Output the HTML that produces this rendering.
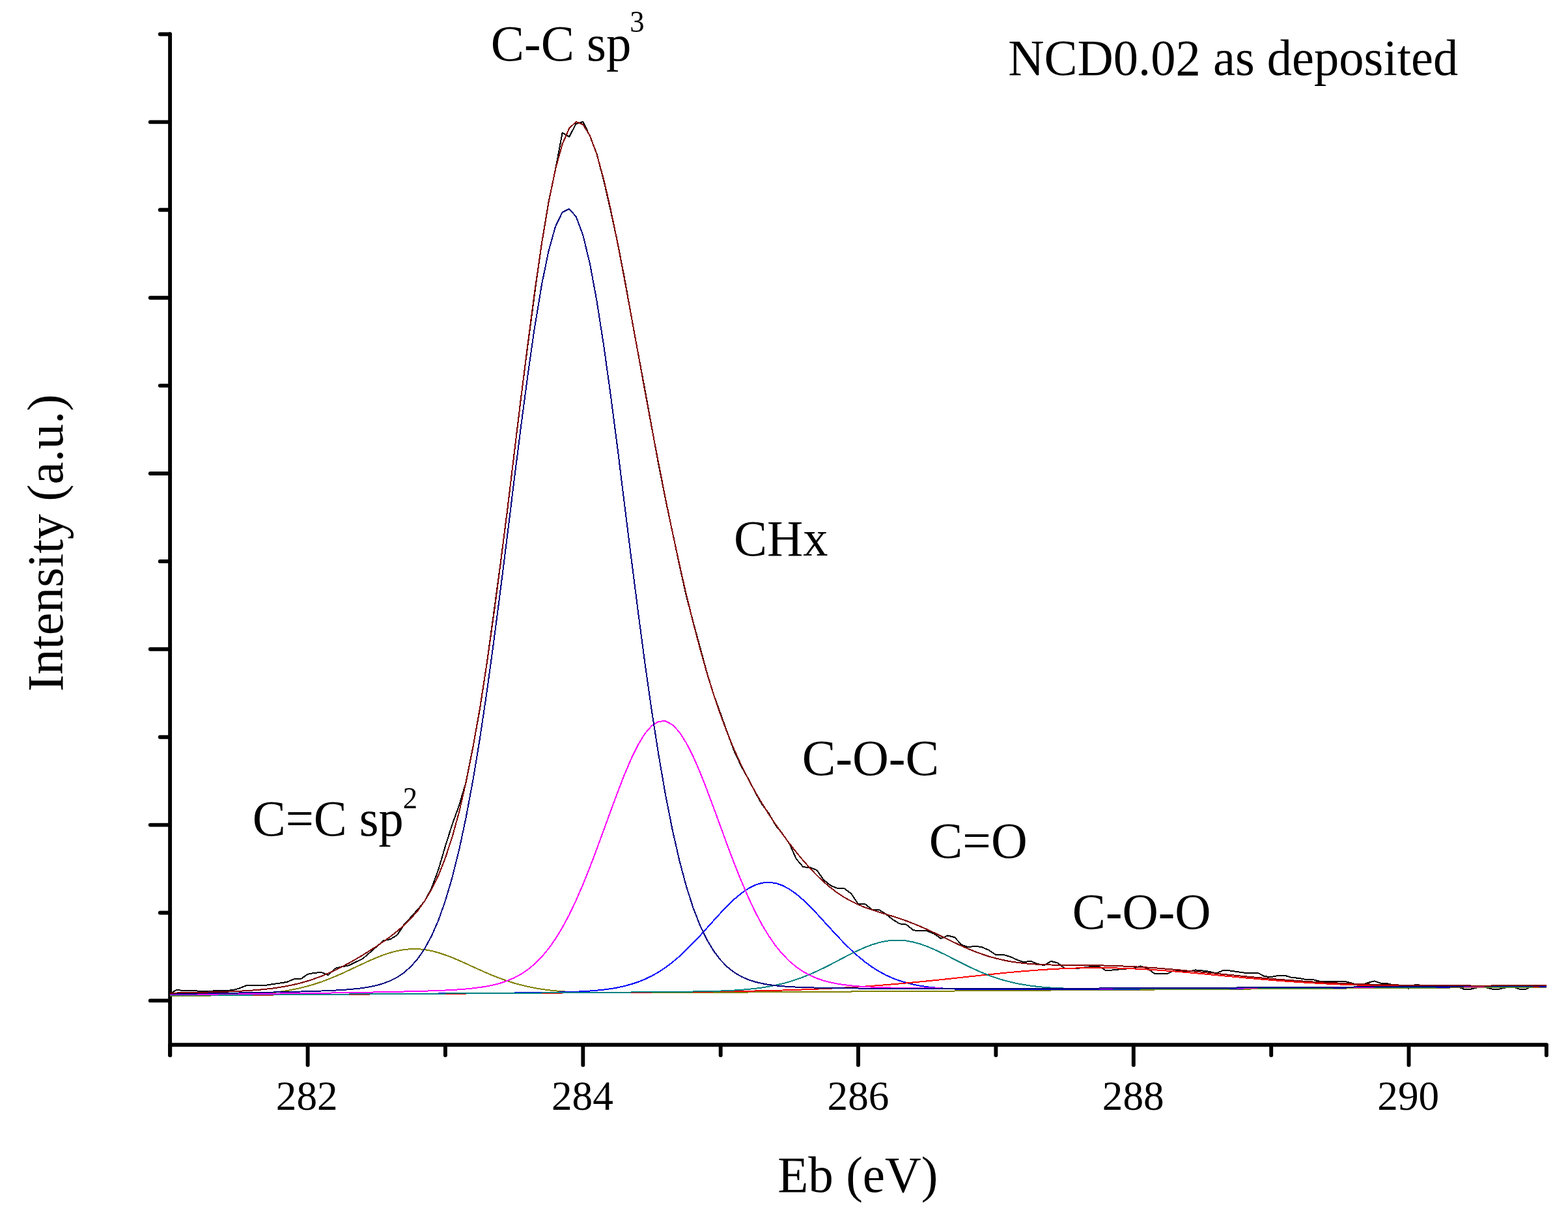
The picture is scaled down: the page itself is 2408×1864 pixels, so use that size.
<!DOCTYPE html>
<html lang="en"><head><meta charset="utf-8"><title>NCD0.02 as deposited</title>
<style>html,body{margin:0;padding:0;background:#fff;overflow:hidden}svg{display:block}text{font-family:"Liberation Serif","DejaVu Serif",serif;fill:#000}</style></head><body>
<svg width="2408" height="1864" viewBox="0 0 2408 1864">
<rect x="0" y="0" width="2408" height="1864" fill="#fff"/>
<g stroke="#000" stroke-width="5.9" stroke-linecap="round" fill="none">
<path d="M261.1 52.3 V1620.3"/>
<path d="M261.1 1604.2 H2374.9"/>
<path d="M245.8 52.5 H260.5"/>
<path d="M230.8 187.4 H260.5"/>
<path d="M245.8 322.3 H260.5"/>
<path d="M230.8 457.2 H260.5"/>
<path d="M245.8 592.1 H260.5"/>
<path d="M230.8 727.0 H260.5"/>
<path d="M245.8 861.9 H260.5"/>
<path d="M230.8 996.8 H260.5"/>
<path d="M245.8 1131.7 H260.5"/>
<path d="M230.8 1266.6 H260.5"/>
<path d="M245.8 1401.5 H260.5"/>
<path d="M230.8 1536.4 H260.5"/>
<path d="M261.2 1604.8 V1620.3"/>
<path d="M472.6 1604.8 V1635.3"/>
<path d="M683.9 1604.8 V1620.3"/>
<path d="M895.3 1604.8 V1635.3"/>
<path d="M1106.7 1604.8 V1620.3"/>
<path d="M1318.0 1604.8 V1635.3"/>
<path d="M1529.4 1604.8 V1620.3"/>
<path d="M1740.8 1604.8 V1635.3"/>
<path d="M1952.2 1604.8 V1620.3"/>
<path d="M2163.5 1604.8 V1635.3"/>
<path d="M2374.9 1604.8 V1620.3"/>
</g>
<g shape-rendering="crispEdges">
<polyline points="261.2,1525.7 271.8,1519.6 282.3,1521.3 292.9,1521.4 303.5,1521.5 314.0,1521.5 324.6,1521.6 335.2,1521.2 345.7,1520.8 356.3,1520.4 366.9,1517.7 377.5,1513.5 388.0,1513.4 398.6,1513.4 409.2,1512.6 419.7,1511.0 430.3,1509.5 440.9,1507.8 451.4,1503.3 462.0,1503.2 472.6,1495.7 483.1,1493.8 493.7,1493.0 504.3,1497.2 514.8,1486.7 525.4,1484.3 536.0,1482.3 546.5,1477.1 557.1,1471.9 567.7,1462.8 578.3,1453.6 588.8,1444.4 599.4,1442.1 610.0,1435.6 620.5,1419.7 631.1,1408.2 641.7,1396.3 652.2,1383.6 662.8,1363.6 673.4,1334.9 683.9,1299.3 694.5,1265.9 705.1,1236.5 715.6,1201.0 726.2,1148.0 736.8,1089.3 747.4,1020.3 757.9,943.8 768.5,865.7 779.1,784.1 789.6,696.7 800.2,609.7 810.8,528.1 821.3,449.1 831.9,373.8 842.5,310.1 853.0,260.3 863.6,204.0 874.2,209.9 884.7,190.0 895.3,187.0 905.9,208.7 916.4,236.2 927.0,276.4 937.6,322.8 948.2,371.3 958.7,425.3 969.3,484.4 979.9,542.2 990.4,598.0 1001.0,656.3 1011.6,714.5 1022.1,767.2 1032.7,816.9 1043.3,867.4 1053.8,914.3 1064.4,954.6 1075.0,993.5 1085.5,1032.6 1096.1,1067.0 1106.7,1096.1 1117.2,1125.5 1127.8,1154.0 1138.4,1176.5 1149.0,1195.6 1159.5,1216.0 1170.1,1234.9 1180.7,1249.0 1191.2,1267.3 1201.8,1280.4 1212.4,1295.6 1222.9,1318.8 1233.5,1331.4 1244.1,1331.7 1254.6,1336.3 1265.2,1351.3 1275.8,1359.8 1286.3,1364.0 1296.9,1364.4 1307.5,1372.3 1318.0,1388.2 1328.6,1388.2 1339.2,1396.6 1349.8,1396.7 1360.3,1403.4 1370.9,1411.8 1381.5,1418.3 1392.0,1419.6 1402.6,1428.2 1413.2,1429.4 1423.7,1429.4 1434.3,1433.6 1444.9,1441.0 1455.4,1436.5 1466.0,1439.1 1476.6,1450.6 1487.1,1454.5 1497.7,1452.5 1508.3,1454.4 1518.9,1459.0 1529.4,1466.1 1540.0,1465.7 1550.6,1468.7 1561.1,1473.3 1571.7,1477.4 1582.3,1475.5 1592.8,1479.7 1603.4,1482.4 1614.0,1475.8 1624.5,1478.6 1635.1,1486.8 1645.7,1486.8 1656.2,1486.7 1666.8,1485.2 1677.4,1483.7 1687.9,1483.9 1698.5,1490.3 1709.1,1489.4 1719.7,1488.3 1730.2,1487.5 1740.8,1486.6 1751.4,1483.5 1761.9,1486.6 1772.5,1494.7 1783.1,1494.7 1793.6,1494.7 1804.2,1489.2 1814.8,1491.8 1825.3,1491.7 1835.9,1489.4 1846.5,1490.5 1857.0,1491.7 1867.6,1494.4 1878.2,1490.1 1888.7,1490.5 1899.3,1491.9 1909.9,1493.5 1920.5,1493.5 1931.0,1493.5 1941.6,1499.0 1952.2,1500.2 1962.7,1497.9 1973.3,1497.8 1983.9,1501.0 1994.4,1501.8 2005.0,1503.9 2015.6,1503.9 2026.1,1506.7 2036.7,1506.7 2047.3,1507.0 2057.8,1507.4 2068.4,1507.5 2079.0,1510.5 2089.6,1512.6 2100.1,1509.1 2110.7,1506.4 2121.3,1510.0 2131.8,1510.5 2142.4,1513.4 2153.0,1516.2 2163.5,1517.7 2174.1,1511.7 2184.7,1513.1 2195.2,1514.5 2205.8,1515.9 2216.4,1515.9 2226.9,1515.4 2237.5,1514.7 2248.1,1518.8 2258.6,1518.7 2269.2,1516.3 2279.8,1515.7 2290.4,1518.5 2300.9,1518.9 2311.5,1516.6 2322.1,1514.6 2332.6,1518.5 2343.2,1518.9 2353.8,1513.8 2364.3,1515.6 2374.9,1514.0" fill="none" stroke="#000000" stroke-width="2.0" stroke-linejoin="round"/>
<polyline points="261.2,1529.2 271.8,1529.1 282.3,1529.0 292.9,1528.9 303.5,1528.8 314.0,1528.7 324.6,1528.5 335.2,1528.4 345.7,1528.2 356.3,1527.9 366.9,1527.6 377.5,1527.1 388.0,1526.6 398.6,1525.9 409.2,1525.1 419.7,1524.0 430.3,1522.7 440.9,1521.1 451.4,1519.1 462.0,1516.8 472.6,1514.1 483.1,1511.0 493.7,1507.5 504.3,1503.5 514.8,1499.2 525.4,1494.6 536.0,1489.7 546.5,1484.7 557.1,1479.8 567.7,1474.9 578.3,1470.4 588.8,1466.3 599.4,1462.8 610.0,1460.0 620.5,1458.1 631.1,1457.1 641.7,1457.1 652.2,1458.1 662.8,1460.0 673.4,1462.8 683.9,1466.3 694.5,1470.3 705.1,1474.8 715.6,1479.5 726.2,1484.4 736.8,1489.2 747.4,1493.9 757.9,1498.3 768.5,1502.4 779.1,1506.2 789.6,1509.5 800.2,1512.4 810.8,1514.9 821.3,1517.0 831.9,1518.8 842.5,1520.2 853.0,1521.3 863.6,1522.2 874.2,1522.9 884.7,1523.4 895.3,1523.8 905.9,1524.0 916.4,1524.2 927.0,1524.3 937.6,1524.4 948.2,1524.4 958.7,1524.4 969.3,1524.4 979.9,1524.4 990.4,1524.4 1001.0,1524.3 1011.6,1524.3 1022.1,1524.2 1032.7,1524.2 1043.3,1524.1 1053.8,1524.0 1064.4,1524.0 1075.0,1523.9 1085.5,1523.9 1096.1,1523.8 1106.7,1523.7 1117.2,1523.7 1127.8,1523.6 1138.4,1523.5 1149.0,1523.5 1159.5,1523.4 1170.1,1523.4 1180.7,1523.3 1191.2,1523.2 1201.8,1523.2 1212.4,1523.1 1222.9,1523.0 1233.5,1523.0 1244.1,1522.9 1254.6,1522.8 1265.2,1522.8 1275.8,1522.7 1286.3,1522.6 1296.9,1522.6 1307.5,1522.5 1318.0,1522.4 1328.6,1522.4 1339.2,1522.3 1349.8,1522.2 1360.3,1522.2 1370.9,1522.1 1381.5,1522.0 1392.0,1521.9 1402.6,1521.9 1413.2,1521.8 1423.7,1521.7 1434.3,1521.7 1444.9,1521.6 1455.4,1521.5 1466.0,1521.5 1476.6,1521.4 1487.1,1521.3 1497.7,1521.3 1508.3,1521.2 1518.9,1521.1 1529.4,1521.1 1540.0,1521.0 1550.6,1520.9 1561.1,1520.8 1571.7,1520.8 1582.3,1520.7 1592.8,1520.6 1603.4,1520.6 1614.0,1520.5 1624.5,1520.4 1635.1,1520.4 1645.7,1520.3 1656.2,1520.2 1666.8,1520.2 1677.4,1520.1 1687.9,1520.0 1698.5,1520.0 1709.1,1519.9 1719.7,1519.8 1730.2,1519.7 1740.8,1519.7 1751.4,1519.6 1761.9,1519.5 1772.5,1519.5 1783.1,1519.4 1793.6,1519.3 1804.2,1519.3 1814.8,1519.2 1825.3,1519.1 1835.9,1519.0 1846.5,1519.0 1857.0,1518.9 1867.6,1518.8 1878.2,1518.8 1888.7,1518.7 1899.3,1518.6 1909.9,1518.6 1920.5,1518.5 1931.0,1518.4 1941.6,1518.4 1952.2,1518.3 1962.7,1518.2 1973.3,1518.1 1983.9,1518.1 1994.4,1518.0 2005.0,1517.9 2015.6,1517.9 2026.1,1517.8 2036.7,1517.7 2047.3,1517.7 2057.8,1517.6 2068.4,1517.5 2079.0,1517.4 2089.6,1517.4 2100.1,1517.3 2110.7,1517.2 2121.3,1517.2 2131.8,1517.1 2142.4,1517.0 2153.0,1517.0 2163.5,1516.9 2174.1,1516.8 2184.7,1516.8 2195.2,1516.7 2205.8,1516.6 2216.4,1516.5 2226.9,1516.5 2237.5,1516.4 2248.1,1516.3 2258.6,1516.3 2269.2,1516.2 2279.8,1516.1 2290.4,1516.1 2300.9,1516.0 2311.5,1515.9 2322.1,1515.8 2332.6,1515.8 2343.2,1515.7 2353.8,1515.6 2364.3,1515.6 2374.9,1515.5" fill="none" stroke="#808000" stroke-width="2.0" stroke-linejoin="round"/>
<polyline points="261.2,1528.5 271.8,1528.4 282.3,1528.3 292.9,1528.3 303.5,1528.2 314.0,1528.1 324.6,1528.1 335.2,1528.0 345.7,1527.9 356.3,1527.8 366.9,1527.8 377.5,1527.7 388.0,1527.6 398.6,1527.5 409.2,1527.5 419.7,1527.4 430.3,1527.3 440.9,1527.2 451.4,1527.2 462.0,1527.1 472.6,1527.0 483.1,1526.9 493.7,1526.9 504.3,1526.8 514.8,1526.7 525.4,1526.6 536.0,1526.6 546.5,1526.5 557.1,1526.4 567.7,1526.3 578.3,1526.2 588.8,1526.2 599.4,1526.1 610.0,1526.0 620.5,1525.9 631.1,1525.8 641.7,1525.8 652.2,1525.7 662.8,1525.6 673.4,1525.5 683.9,1525.4 694.5,1525.3 705.1,1525.3 715.6,1525.2 726.2,1525.1 736.8,1525.0 747.4,1524.9 757.9,1524.8 768.5,1524.7 779.1,1524.6 789.6,1524.5 800.2,1524.4 810.8,1524.3 821.3,1524.1 831.9,1524.0 842.5,1523.8 853.0,1523.6 863.6,1523.4 874.2,1523.1 884.7,1522.7 895.3,1522.2 905.9,1521.5 916.4,1520.7 927.0,1519.6 937.6,1518.2 948.2,1516.4 958.7,1514.1 969.3,1511.2 979.9,1507.7 990.4,1503.5 1001.0,1498.4 1011.6,1492.4 1022.1,1485.4 1032.7,1477.4 1043.3,1468.5 1053.8,1458.6 1064.4,1448.0 1075.0,1436.8 1085.5,1425.1 1096.1,1413.3 1106.7,1401.7 1117.2,1390.7 1127.8,1380.5 1138.4,1371.7 1149.0,1364.4 1159.5,1359.0 1170.1,1355.7 1180.7,1354.7 1191.2,1356.0 1201.8,1359.6 1212.4,1365.3 1222.9,1372.7 1233.5,1381.8 1244.1,1392.0 1254.6,1403.0 1265.2,1414.6 1275.8,1426.2 1286.3,1437.6 1296.9,1448.6 1307.5,1459.0 1318.0,1468.5 1328.6,1477.1 1339.2,1484.8 1349.8,1491.4 1360.3,1497.1 1370.9,1501.9 1381.5,1505.8 1392.0,1509.0 1402.6,1511.6 1413.2,1513.7 1423.7,1515.2 1434.3,1516.4 1444.9,1517.3 1455.4,1518.0 1466.0,1518.5 1476.6,1518.8 1487.1,1519.1 1497.7,1519.2 1508.3,1519.3 1518.9,1519.4 1529.4,1519.4 1540.0,1519.4 1550.6,1519.4 1561.1,1519.4 1571.7,1519.3 1582.3,1519.3 1592.8,1519.3 1603.4,1519.2 1614.0,1519.2 1624.5,1519.1 1635.1,1519.1 1645.7,1519.0 1656.2,1519.0 1666.8,1518.9 1677.4,1518.9 1687.9,1518.8 1698.5,1518.7 1709.1,1518.7 1719.7,1518.6 1730.2,1518.6 1740.8,1518.5 1751.4,1518.5 1761.9,1518.4 1772.5,1518.3 1783.1,1518.3 1793.6,1518.2 1804.2,1518.1 1814.8,1518.1 1825.3,1518.0 1835.9,1518.0 1846.5,1517.9 1857.0,1517.8 1867.6,1517.8 1878.2,1517.7 1888.7,1517.6 1899.3,1517.6 1909.9,1517.5 1920.5,1517.4 1931.0,1517.4 1941.6,1517.3 1952.2,1517.2 1962.7,1517.2 1973.3,1517.1 1983.9,1517.1 1994.4,1517.0 2005.0,1516.9 2015.6,1516.9 2026.1,1516.8 2036.7,1516.7 2047.3,1516.7 2057.8,1516.6 2068.4,1516.5 2079.0,1516.4 2089.6,1516.4 2100.1,1516.3 2110.7,1516.2 2121.3,1516.2 2131.8,1516.1 2142.4,1516.0 2153.0,1516.0 2163.5,1515.9 2174.1,1515.8 2184.7,1515.8 2195.2,1515.7 2205.8,1515.6 2216.4,1515.6 2226.9,1515.5 2237.5,1515.4 2248.1,1515.4 2258.6,1515.3 2269.2,1515.2 2279.8,1515.2 2290.4,1515.1 2300.9,1515.0 2311.5,1515.0 2322.1,1514.9 2332.6,1514.8 2343.2,1514.7 2353.8,1514.7 2364.3,1514.6 2374.9,1514.5" fill="none" stroke="#0000ff" stroke-width="2.0" stroke-linejoin="round"/>
<polyline points="261.2,1528.5 271.8,1528.4 282.3,1528.4 292.9,1528.3 303.5,1528.2 314.0,1528.2 324.6,1528.1 335.2,1528.0 345.7,1527.9 356.3,1527.9 366.9,1527.8 377.5,1527.7 388.0,1527.7 398.6,1527.6 409.2,1527.5 419.7,1527.5 430.3,1527.4 440.9,1527.3 451.4,1527.2 462.0,1527.2 472.6,1527.1 483.1,1527.0 493.7,1527.0 504.3,1526.9 514.8,1526.8 525.4,1526.8 536.0,1526.7 546.5,1526.6 557.1,1526.5 567.7,1526.5 578.3,1526.4 588.8,1526.3 599.4,1526.3 610.0,1526.2 620.5,1526.1 631.1,1526.1 641.7,1526.0 652.2,1525.9 662.8,1525.8 673.4,1525.8 683.9,1525.7 694.5,1525.6 705.1,1525.6 715.6,1525.5 726.2,1525.4 736.8,1525.4 747.4,1525.3 757.9,1525.2 768.5,1525.1 779.1,1525.1 789.6,1525.0 800.2,1524.9 810.8,1524.9 821.3,1524.8 831.9,1524.7 842.5,1524.6 853.0,1524.6 863.6,1524.5 874.2,1524.4 884.7,1524.4 895.3,1524.3 905.9,1524.2 916.4,1524.1 927.0,1524.1 937.6,1524.0 948.2,1523.9 958.7,1523.8 969.3,1523.8 979.9,1523.7 990.4,1523.6 1001.0,1523.5 1011.6,1523.4 1022.1,1523.3 1032.7,1523.2 1043.3,1523.1 1053.8,1523.0 1064.4,1522.9 1075.0,1522.8 1085.5,1522.7 1096.1,1522.5 1106.7,1522.4 1117.2,1522.2 1127.8,1522.1 1138.4,1521.9 1149.0,1521.7 1159.5,1521.5 1170.1,1521.3 1180.7,1521.0 1191.2,1520.8 1201.8,1520.5 1212.4,1520.2 1222.9,1519.8 1233.5,1519.4 1244.1,1519.0 1254.6,1518.6 1265.2,1518.1 1275.8,1517.6 1286.3,1517.1 1296.9,1516.5 1307.5,1515.9 1318.0,1515.2 1328.6,1514.5 1339.2,1513.8 1349.8,1513.0 1360.3,1512.2 1370.9,1511.3 1381.5,1510.4 1392.0,1509.4 1402.6,1508.4 1413.2,1507.4 1423.7,1506.4 1434.3,1505.3 1444.9,1504.2 1455.4,1503.1 1466.0,1501.9 1476.6,1500.8 1487.1,1499.6 1497.7,1498.5 1508.3,1497.4 1518.9,1496.3 1529.4,1495.2 1540.0,1494.1 1550.6,1493.1 1561.1,1492.1 1571.7,1491.2 1582.3,1490.4 1592.8,1489.6 1603.4,1488.8 1614.0,1488.2 1624.5,1487.6 1635.1,1487.1 1645.7,1486.7 1656.2,1486.4 1666.8,1486.2 1677.4,1486.1 1687.9,1486.1 1698.5,1486.2 1709.1,1486.3 1719.7,1486.6 1730.2,1487.0 1740.8,1487.4 1751.4,1487.9 1761.9,1488.5 1772.5,1489.2 1783.1,1489.9 1793.6,1490.7 1804.2,1491.5 1814.8,1492.4 1825.3,1493.3 1835.9,1494.2 1846.5,1495.2 1857.0,1496.2 1867.6,1497.2 1878.2,1498.2 1888.7,1499.2 1899.3,1500.2 1909.9,1501.2 1920.5,1502.1 1931.0,1503.1 1941.6,1504.0 1952.2,1504.9 1962.7,1505.7 1973.3,1506.5 1983.9,1507.3 1994.4,1508.0 2005.0,1508.7 2015.6,1509.3 2026.1,1509.9 2036.7,1510.5 2047.3,1511.0 2057.8,1511.5 2068.4,1511.9 2079.0,1512.3 2089.6,1512.7 2100.1,1513.0 2110.7,1513.3 2121.3,1513.6 2131.8,1513.8 2142.4,1514.0 2153.0,1514.2 2163.5,1514.3 2174.1,1514.5 2184.7,1514.6 2195.2,1514.7 2205.8,1514.7 2216.4,1514.8 2226.9,1514.8 2237.5,1514.8 2248.1,1514.9 2258.6,1514.9 2269.2,1514.8 2279.8,1514.8 2290.4,1514.8 2300.9,1514.8 2311.5,1514.7 2322.1,1514.7 2332.6,1514.7 2343.2,1514.6 2353.8,1514.6 2364.3,1514.5 2374.9,1514.4" fill="none" stroke="#ff0000" stroke-width="2.0" stroke-linejoin="round"/>
<polyline points="261.2,1528.4 271.8,1528.3 282.3,1528.2 292.9,1528.2 303.5,1528.1 314.0,1528.0 324.6,1527.9 335.2,1527.9 345.7,1527.8 356.3,1527.7 366.9,1527.7 377.5,1527.6 388.0,1527.5 398.6,1527.4 409.2,1527.4 419.7,1527.3 430.3,1527.2 440.9,1527.2 451.4,1527.1 462.0,1527.0 472.6,1526.9 483.1,1526.9 493.7,1526.8 504.3,1526.7 514.8,1526.7 525.4,1526.6 536.0,1526.5 546.5,1526.4 557.1,1526.4 567.7,1526.3 578.3,1526.2 588.8,1526.2 599.4,1526.1 610.0,1526.0 620.5,1525.9 631.1,1525.9 641.7,1525.8 652.2,1525.7 662.8,1525.7 673.4,1525.6 683.9,1525.5 694.5,1525.4 705.1,1525.4 715.6,1525.3 726.2,1525.2 736.8,1525.1 747.4,1525.1 757.9,1525.0 768.5,1524.9 779.1,1524.9 789.6,1524.8 800.2,1524.7 810.8,1524.6 821.3,1524.6 831.9,1524.5 842.5,1524.4 853.0,1524.3 863.6,1524.3 874.2,1524.2 884.7,1524.1 895.3,1524.0 905.9,1523.9 916.4,1523.9 927.0,1523.8 937.6,1523.7 948.2,1523.6 958.7,1523.5 969.3,1523.5 979.9,1523.4 990.4,1523.3 1001.0,1523.2 1011.6,1523.1 1022.1,1523.0 1032.7,1522.9 1043.3,1522.8 1053.8,1522.7 1064.4,1522.5 1075.0,1522.3 1085.5,1522.1 1096.1,1521.9 1106.7,1521.5 1117.2,1521.1 1127.8,1520.5 1138.4,1519.8 1149.0,1519.0 1159.5,1517.8 1170.1,1516.5 1180.7,1514.8 1191.2,1512.7 1201.8,1510.3 1212.4,1507.4 1222.9,1504.0 1233.5,1500.2 1244.1,1495.9 1254.6,1491.2 1265.2,1486.1 1275.8,1480.8 1286.3,1475.3 1296.9,1469.7 1307.5,1464.3 1318.0,1459.2 1328.6,1454.5 1339.2,1450.5 1349.8,1447.3 1360.3,1445.0 1370.9,1443.7 1381.5,1443.6 1392.0,1444.5 1402.6,1446.5 1413.2,1449.4 1423.7,1453.2 1434.3,1457.6 1444.9,1462.6 1455.4,1467.8 1466.0,1473.2 1476.6,1478.6 1487.1,1483.8 1497.7,1488.8 1508.3,1493.5 1518.9,1497.7 1529.4,1501.4 1540.0,1504.7 1550.6,1507.5 1561.1,1509.9 1571.7,1511.9 1582.3,1513.5 1592.8,1514.8 1603.4,1515.8 1614.0,1516.6 1624.5,1517.2 1635.1,1517.6 1645.7,1517.9 1656.2,1518.1 1666.8,1518.2 1677.4,1518.3 1687.9,1518.4 1698.5,1518.4 1709.1,1518.4 1719.7,1518.4 1730.2,1518.3 1740.8,1518.3 1751.4,1518.2 1761.9,1518.2 1772.5,1518.1 1783.1,1518.1 1793.6,1518.0 1804.2,1518.0 1814.8,1517.9 1825.3,1517.8 1835.9,1517.8 1846.5,1517.7 1857.0,1517.7 1867.6,1517.6 1878.2,1517.5 1888.7,1517.5 1899.3,1517.4 1909.9,1517.3 1920.5,1517.3 1931.0,1517.2 1941.6,1517.1 1952.2,1517.1 1962.7,1517.0 1973.3,1516.9 1983.9,1516.9 1994.4,1516.8 2005.0,1516.7 2015.6,1516.7 2026.1,1516.6 2036.7,1516.5 2047.3,1516.5 2057.8,1516.4 2068.4,1516.3 2079.0,1516.3 2089.6,1516.2 2100.1,1516.1 2110.7,1516.1 2121.3,1516.0 2131.8,1515.9 2142.4,1515.9 2153.0,1515.8 2163.5,1515.7 2174.1,1515.7 2184.7,1515.6 2195.2,1515.5 2205.8,1515.5 2216.4,1515.4 2226.9,1515.3 2237.5,1515.3 2248.1,1515.2 2258.6,1515.1 2269.2,1515.1 2279.8,1515.0 2290.4,1514.9 2300.9,1514.8 2311.5,1514.8 2322.1,1514.7 2332.6,1514.6 2343.2,1514.6 2353.8,1514.5 2364.3,1514.4 2374.9,1514.4" fill="none" stroke="#008080" stroke-width="2.0" stroke-linejoin="round"/>
<polyline points="261.2,1527.2 271.8,1527.1 282.3,1527.0 292.9,1527.0 303.5,1526.9 314.0,1526.7 324.6,1526.6 335.2,1526.5 345.7,1526.4 356.3,1526.3 366.9,1526.2 377.5,1526.1 388.0,1526.0 398.6,1525.9 409.2,1525.8 419.7,1525.6 430.3,1525.5 440.9,1525.4 451.4,1525.3 462.0,1525.1 472.6,1525.0 483.1,1524.9 493.7,1524.7 504.3,1524.6 514.8,1524.4 525.4,1524.3 536.0,1524.1 546.5,1523.9 557.1,1523.7 567.7,1523.6 578.3,1523.4 588.8,1523.2 599.4,1523.0 610.0,1522.7 620.5,1522.5 631.1,1522.2 641.7,1522.0 652.2,1521.7 662.8,1521.3 673.4,1520.9 683.9,1520.5 694.5,1520.0 705.1,1519.3 715.6,1518.5 726.2,1517.4 736.8,1516.1 747.4,1514.4 757.9,1512.3 768.5,1509.5 779.1,1505.9 789.6,1501.4 800.2,1495.7 810.8,1488.6 821.3,1479.8 831.9,1469.2 842.5,1456.6 853.0,1441.6 863.6,1424.3 874.2,1404.5 884.7,1382.4 895.3,1358.0 905.9,1331.6 916.4,1303.8 927.0,1274.9 937.6,1245.8 948.2,1217.2 958.7,1190.0 969.3,1165.2 979.9,1143.7 990.4,1126.4 1001.0,1114.2 1011.6,1107.7 1022.1,1107.2 1032.7,1112.8 1043.3,1124.0 1053.8,1140.4 1064.4,1161.3 1075.0,1185.5 1085.5,1212.3 1096.1,1240.6 1106.7,1269.6 1117.2,1298.4 1127.8,1326.3 1138.4,1352.7 1149.0,1377.3 1159.5,1399.6 1170.1,1419.6 1180.7,1437.1 1191.2,1452.3 1201.8,1465.1 1212.4,1475.9 1222.9,1484.7 1233.5,1491.9 1244.1,1497.6 1254.6,1502.2 1265.2,1505.8 1275.8,1508.5 1286.3,1510.6 1296.9,1512.2 1307.5,1513.4 1318.0,1514.4 1328.6,1515.1 1339.2,1515.6 1349.8,1516.0 1360.3,1516.3 1370.9,1516.6 1381.5,1516.8 1392.0,1517.0 1402.6,1517.1 1413.2,1517.2 1423.7,1517.3 1434.3,1517.4 1444.9,1517.5 1455.4,1517.5 1466.0,1517.6 1476.6,1517.6 1487.1,1517.7 1497.7,1517.7 1508.3,1517.7 1518.9,1517.8 1529.4,1517.8 1540.0,1517.8 1550.6,1517.8 1561.1,1517.8 1571.7,1517.8 1582.3,1517.8 1592.8,1517.8 1603.4,1517.7 1614.0,1517.7 1624.5,1517.7 1635.1,1517.7 1645.7,1517.7 1656.2,1517.6 1666.8,1517.6 1677.4,1517.6 1687.9,1517.5 1698.5,1517.5 1709.1,1517.5 1719.7,1517.4 1730.2,1517.4 1740.8,1517.4 1751.4,1517.3 1761.9,1517.3 1772.5,1517.2 1783.1,1517.2 1793.6,1517.1 1804.2,1517.1 1814.8,1517.1 1825.3,1517.0 1835.9,1517.0 1846.5,1516.9 1857.0,1516.9 1867.6,1516.8 1878.2,1516.8 1888.7,1516.7 1899.3,1516.6 1909.9,1516.6 1920.5,1516.5 1931.0,1516.5 1941.6,1516.4 1952.2,1516.4 1962.7,1516.3 1973.3,1516.3 1983.9,1516.2 1994.4,1516.1 2005.0,1516.1 2015.6,1516.0 2026.1,1516.0 2036.7,1515.9 2047.3,1515.9 2057.8,1515.8 2068.4,1515.7 2079.0,1515.7 2089.6,1515.6 2100.1,1515.6 2110.7,1515.5 2121.3,1515.4 2131.8,1515.4 2142.4,1515.3 2153.0,1515.2 2163.5,1515.2 2174.1,1515.1 2184.7,1515.1 2195.2,1515.0 2205.8,1514.9 2216.4,1514.9 2226.9,1514.8 2237.5,1514.7 2248.1,1514.7 2258.6,1514.6 2269.2,1514.6 2279.8,1514.5 2290.4,1514.4 2300.9,1514.4 2311.5,1514.3 2322.1,1514.2 2332.6,1514.2 2343.2,1514.1 2353.8,1514.0 2364.3,1514.0 2374.9,1513.9" fill="none" stroke="#ff00ff" stroke-width="2.0" stroke-linejoin="round"/>
<polyline points="261.2,1526.1 271.8,1525.9 282.3,1525.8 292.9,1525.7 303.5,1525.5 314.0,1525.4 324.6,1525.2 335.2,1525.0 345.7,1524.9 356.3,1524.7 366.9,1524.5 377.5,1524.3 388.0,1524.2 398.6,1524.0 409.2,1523.7 419.7,1523.5 430.3,1523.3 440.9,1523.1 451.4,1522.8 462.0,1522.5 472.6,1522.2 483.1,1521.9 493.7,1521.5 504.3,1521.1 514.8,1520.6 525.4,1520.0 536.0,1519.2 546.5,1518.2 557.1,1517.0 567.7,1515.3 578.3,1513.0 588.8,1510.0 599.4,1505.9 610.0,1500.5 620.5,1493.4 631.1,1484.0 641.7,1471.9 652.2,1456.5 662.8,1437.0 673.4,1412.8 683.9,1383.1 694.5,1347.3 705.1,1304.9 715.6,1255.4 726.2,1198.7 736.8,1134.8 747.4,1064.2 757.9,987.7 768.5,906.6 779.1,822.5 789.6,737.4 800.2,653.7 810.8,574.0 821.3,500.9 831.9,437.2 842.5,385.5 853.0,347.8 863.6,325.9 874.2,320.8 884.7,332.7 895.3,361.1 905.9,404.7 916.4,461.5 927.0,529.3 937.6,605.3 948.2,686.8 958.7,771.2 969.3,856.0 979.9,939.0 990.4,1018.2 1001.0,1092.3 1011.6,1160.0 1022.1,1220.9 1032.7,1274.5 1043.3,1320.9 1053.8,1360.4 1064.4,1393.5 1075.0,1420.7 1085.5,1442.7 1096.1,1460.3 1106.7,1474.2 1117.2,1484.9 1127.8,1493.2 1138.4,1499.4 1149.0,1504.1 1159.5,1507.5 1170.1,1510.1 1180.7,1511.9 1191.2,1513.3 1201.8,1514.3 1212.4,1515.0 1222.9,1515.6 1233.5,1516.0 1244.1,1516.4 1254.6,1516.6 1265.2,1516.8 1275.8,1517.0 1286.3,1517.1 1296.9,1517.3 1307.5,1517.4 1318.0,1517.5 1328.6,1517.6 1339.2,1517.6 1349.8,1517.7 1360.3,1517.8 1370.9,1517.8 1381.5,1517.9 1392.0,1517.9 1402.6,1517.9 1413.2,1517.9 1423.7,1518.0 1434.3,1518.0 1444.9,1518.0 1455.4,1518.0 1466.0,1518.0 1476.6,1518.0 1487.1,1518.0 1497.7,1518.0 1508.3,1518.0 1518.9,1518.0 1529.4,1517.9 1540.0,1517.9 1550.6,1517.9 1561.1,1517.9 1571.7,1517.9 1582.3,1517.8 1592.8,1517.8 1603.4,1517.8 1614.0,1517.7 1624.5,1517.7 1635.1,1517.7 1645.7,1517.6 1656.2,1517.6 1666.8,1517.5 1677.4,1517.5 1687.9,1517.5 1698.5,1517.4 1709.1,1517.4 1719.7,1517.3 1730.2,1517.3 1740.8,1517.2 1751.4,1517.2 1761.9,1517.1 1772.5,1517.1 1783.1,1517.0 1793.6,1517.0 1804.2,1516.9 1814.8,1516.9 1825.3,1516.8 1835.9,1516.8 1846.5,1516.7 1857.0,1516.7 1867.6,1516.6 1878.2,1516.6 1888.7,1516.5 1899.3,1516.5 1909.9,1516.4 1920.5,1516.4 1931.0,1516.3 1941.6,1516.2 1952.2,1516.2 1962.7,1516.1 1973.3,1516.1 1983.9,1516.0 1994.4,1515.9 2005.0,1515.9 2015.6,1515.8 2026.1,1515.8 2036.7,1515.7 2047.3,1515.6 2057.8,1515.6 2068.4,1515.5 2079.0,1515.5 2089.6,1515.4 2100.1,1515.3 2110.7,1515.3 2121.3,1515.2 2131.8,1515.2 2142.4,1515.1 2153.0,1515.0 2163.5,1515.0 2174.1,1514.9 2184.7,1514.8 2195.2,1514.8 2205.8,1514.7 2216.4,1514.7 2226.9,1514.6 2237.5,1514.5 2248.1,1514.5 2258.6,1514.4 2269.2,1514.3 2279.8,1514.3 2290.4,1514.2 2300.9,1514.1 2311.5,1514.1 2322.1,1514.0 2332.6,1513.9 2343.2,1513.9 2353.8,1513.8 2364.3,1513.7 2374.9,1513.7" fill="none" stroke="#000080" stroke-width="2.0" stroke-linejoin="round"/>
<polyline points="261.2,1524.7 271.8,1524.5 282.3,1524.3 292.9,1524.1 303.5,1523.9 314.0,1523.6 324.6,1523.4 335.2,1523.1 345.7,1522.7 356.3,1522.3 366.9,1521.8 377.5,1521.2 388.0,1520.5 398.6,1519.7 409.2,1518.6 419.7,1517.4 430.3,1515.8 440.9,1514.0 451.4,1511.8 462.0,1509.2 472.6,1506.2 483.1,1502.7 493.7,1498.8 504.3,1494.4 514.8,1489.6 525.4,1484.3 536.0,1478.7 546.5,1472.7 557.1,1466.4 567.7,1459.8 578.3,1452.9 588.8,1445.7 599.4,1438.1 610.0,1429.8 620.5,1420.7 631.1,1410.2 641.7,1398.0 652.2,1383.4 662.8,1365.6 673.4,1343.8 683.9,1317.3 694.5,1285.2 705.1,1246.7 715.6,1201.2 726.2,1148.4 736.8,1088.1 747.4,1020.6 757.9,946.6 768.5,866.9 779.1,783.1 789.6,696.9 800.2,610.5 810.8,526.2 821.3,446.6 831.9,374.1 842.5,311.1 853.0,259.6 863.6,221.3 874.2,197.0 884.7,187.1 895.3,191.2 905.9,208.2 916.4,236.7 927.0,274.8 937.6,320.5 948.2,371.9 958.7,427.0 969.3,484.3 979.9,542.4 990.4,600.3 1001.0,657.2 1011.6,712.6 1022.1,766.0 1032.7,817.3 1043.3,866.1 1053.8,912.3 1064.4,955.5 1075.0,995.7 1085.5,1032.9 1096.1,1066.9 1106.7,1097.9 1117.2,1126.1 1127.8,1151.7 1138.4,1174.9 1149.0,1196.0 1159.5,1215.4 1170.1,1233.4 1180.7,1250.1 1191.2,1265.9 1201.8,1280.8 1212.4,1295.1 1222.9,1308.5 1233.5,1321.3 1244.1,1333.2 1254.6,1344.2 1265.2,1354.2 1275.8,1363.2 1286.3,1371.1 1296.9,1378.0 1307.5,1383.9 1318.0,1389.0 1328.6,1393.3 1339.2,1397.0 1349.8,1400.4 1360.3,1403.7 1370.9,1406.9 1381.5,1410.3 1392.0,1414.0 1402.6,1418.0 1413.2,1422.4 1423.7,1427.1 1434.3,1432.0 1444.9,1437.1 1455.4,1442.3 1466.0,1447.4 1476.6,1452.3 1487.1,1456.9 1497.7,1461.2 1508.3,1465.1 1518.9,1468.6 1529.4,1471.5 1540.0,1474.0 1550.6,1476.1 1561.1,1477.7 1571.7,1479.0 1582.3,1480.0 1592.8,1480.7 1603.4,1481.1 1614.0,1481.5 1624.5,1481.7 1635.1,1481.8 1645.7,1481.9 1656.2,1481.9 1666.8,1482.0 1677.4,1482.2 1687.9,1482.3 1698.5,1482.6 1709.1,1482.9 1719.7,1483.3 1730.2,1483.7 1740.8,1484.2 1751.4,1484.8 1761.9,1485.5 1772.5,1486.2 1783.1,1487.0 1793.6,1487.9 1804.2,1488.8 1814.8,1489.7 1825.3,1490.7 1835.9,1491.7 1846.5,1492.7 1857.0,1493.8 1867.6,1494.8 1878.2,1495.9 1888.7,1496.9 1899.3,1497.9 1909.9,1499.0 1920.5,1500.0 1931.0,1500.9 1941.6,1501.9 1952.2,1502.8 1962.7,1503.7 1973.3,1504.5 1983.9,1505.3 1994.4,1506.1 2005.0,1506.8 2015.6,1507.5 2026.1,1508.1 2036.7,1508.7 2047.3,1509.2 2057.8,1509.7 2068.4,1510.2 2079.0,1510.6 2089.6,1511.0 2100.1,1511.4 2110.7,1511.7 2121.3,1512.0 2131.8,1512.2 2142.4,1512.4 2153.0,1512.6 2163.5,1512.8 2174.1,1512.9 2184.7,1513.1 2195.2,1513.2 2205.8,1513.3 2216.4,1513.3 2226.9,1513.4 2237.5,1513.4 2248.1,1513.4 2258.6,1513.5 2269.2,1513.5 2279.8,1513.5 2290.4,1513.5 2300.9,1513.4 2311.5,1513.4 2322.1,1513.4 2332.6,1513.4 2343.2,1513.3 2353.8,1513.3 2364.3,1513.2 2374.9,1513.2" fill="none" stroke="#800000" stroke-width="2.0" stroke-linejoin="round"/>
</g>
<text id="t282" transform="translate(423.76 1704.00) scale(1.0120 1)" font-size="62.5">282</text>
<text id="t284" transform="translate(846.96 1704.00) scale(1.0120 1)" font-size="62.5">284</text>
<text id="t286" transform="translate(1270.57 1704.00) scale(1.0120 1)" font-size="62.5">286</text>
<text id="t288" transform="translate(1692.76 1704.00) scale(1.0120 1)" font-size="62.5">288</text>
<text id="t290" transform="translate(2115.37 1704.00) scale(1.0120 1)" font-size="62.5">290</text>
<text id="eb" transform="translate(1194.23 1830.40) scale(0.9889 1)" font-size="78">Eb (eV)</text>
<text id="ncd" transform="translate(1548.24 114.70) scale(0.9815 1)" font-size="78">NCD0.02 as deposited</text>
<text id="sp3" transform="translate(753.85 92.60) scale(0.9849 1)" font-size="78">C-C sp<tspan x="216.62" y="-43.30" font-size="45.5">3</tspan></text>
<text id="sp2" transform="translate(387.67 1283.40) scale(0.9797 1)" font-size="78">C=C sp<tspan x="235.94" y="-42.20" font-size="45.5">2</tspan></text>
<text id="chx" transform="translate(1127.06 853.00) scale(0.9811 1)" font-size="78">CHx</text>
<text id="coc" transform="translate(1231.63 1190.20) scale(0.9917 1)" font-size="78">C-O-C</text>
<text id="co" transform="translate(1426.83 1317.10) scale(0.9904 1)" font-size="78">C=O</text>
<text id="coo" transform="translate(1646.86 1425.70) scale(0.9819 1)" font-size="78">C-O-O</text>
<text id="int" transform="translate(95.8 1061.80) rotate(-90) scale(0.9987 1)" font-size="78">Intensity (a.u.)</text>
</svg></body></html>
